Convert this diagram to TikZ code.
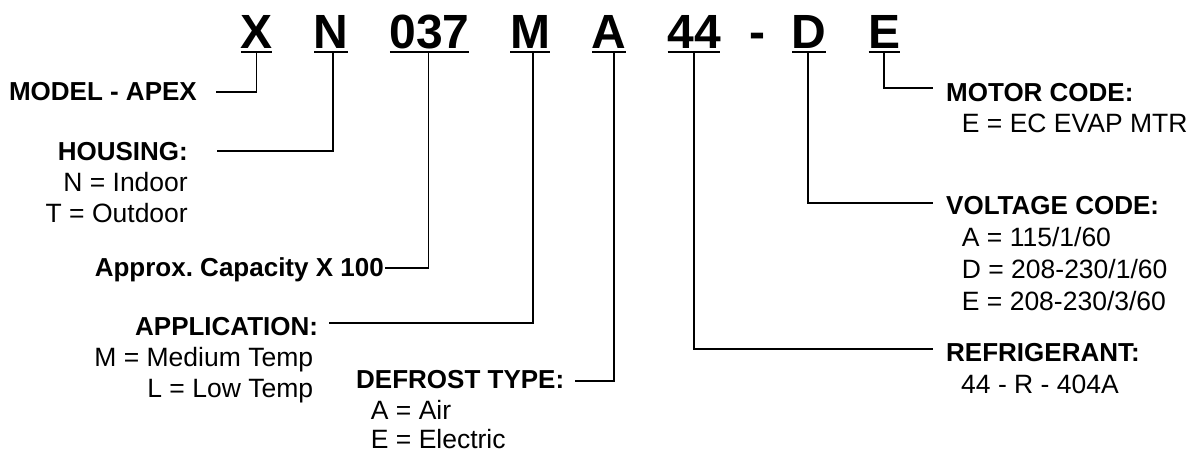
\documentclass[tikz,border=0pt]{standalone}
\usepackage{fontspec}
\setmainfont{Liberation Sans}
\frenchspacing
\begin{document}
\begin{tikzpicture}[x=1pt,y=-1pt,
  code/.style={font=\fontsize{48}{48}\selectfont\bfseries, inner sep=0pt, text depth=3.4pt, anchor=base},
  hdr/.style={font=\fontsize{26}{30}\selectfont\bfseries, inner sep=0pt},
  txt/.style={font=\fontsize{26.5}{30}\selectfont, inner sep=0pt},
  wire/.style={line width=1.8pt},
  uline/.style={line width=1.8pt}]
\useasboundingbox (0,0) rectangle (1191,453);

% code letters
\node[code] (cX) at (256.4,48.3) {X};
\node[code] (cN) at (331,48.3) {N};
\node[code] (cCap) at (429.5,48.3) {037};
\node[code] (cM) at (530,48.3) {M};
\node[code] (cA) at (609,48.3) {A};
\node[code] (c44) at (694,48.3) {44};
\node[code] (cDash) at (757.8,48.3) {-};
\node[code] (cD) at (809.3,48.3) {D};
\node[code] (cE) at (884.3,48.3) {E};

\foreach \n in {cX,cN,cCap,cM,cA,c44,cD,cE}
  \draw[uline] ([xshift=0.6pt]\n.south west) -- ([xshift=-0.6pt]\n.south east);

% left labels
\node[hdr, anchor=base east] (lModel) at (197,100.7) {MODEL - APEX};
\node[hdr, anchor=base east] (lHousing) at (188,160) {HOUSING:};
\node[txt, anchor=base east] (lN) at (188,191.7) {N = Indoor};
\node[txt, anchor=base east] (lT) at (188,222.7) {T = Outdoor};
\node[hdr, anchor=base east] (lCap) at (384,276.7) {Approx. Capacity X 100};
\node[hdr, anchor=base east] (lApp) at (318.3,335) {APPLICATION:};
\node[txt, anchor=base east] (lMed) at (313.3,366) {M = Medium Temp};
\node[txt, anchor=base east] (lLow) at (313.3,397) {L = Low Temp};
\node[hdr, anchor=base west] (lDef) at (356,388.5) {DEFROST TYPE:};
\node[txt, anchor=base west] (lAir) at (370.7,419) {A = Air};
\node[txt, anchor=base west] (lElec) at (370.7,448.5) {E = Electric};

% right labels
\node[hdr, anchor=base west] (lMotor) at (946,101) {MOTOR CODE:};
\node[txt, anchor=base west] (lEc) at (961.7,132.5) {E = EC EVAP MTR};
\node[hdr, anchor=base west] (lVolt) at (946,214.5) {VOLTAGE CODE:};
\node[txt, anchor=base west] (lV1) at (961.7,246.5) {A = 115/1/60};
\node[txt, anchor=base west] (lV2) at (961.7,278) {D = 208-230/1/60};
\node[txt, anchor=base west] (lV3) at (961.7,310) {E = 208-230/3/60};
\node[hdr, anchor=base west] (lRef) at (946,361) {REFRIGERANT:};
\node[txt, anchor=base west] (lR1) at (961,393) {44 - R - 404A};

% connector ends
\coordinate (mModel) at (216,92.3);
\coordinate (mHousing) at (217,150.7);
\coordinate (mCap) at (385,268.3);
\coordinate (mApp) at (329,323.3);
\coordinate (mDef) at (575,380.7);
\coordinate (mMotor) at (932.7,88.3);
\coordinate (mVolt) at (932.7,202.7);
\coordinate (mRef) at (932.7,349);

% connectors
\draw[wire] (cX.south) |- (mModel);
\draw[wire] ([xshift=1.7pt]cN.south) |- (mHousing);
\draw[wire] ([xshift=-1pt]cCap.south) |- (mCap);
\draw[wire] ([xshift=2.7pt]cM.south) |- (mApp);
\draw[wire] ([xshift=5pt]cA.south) |- (mDef);
\draw[wire] (c44.south) |- (mRef);
\draw[wire] ([xshift=-1pt]cD.south) |- (mVolt);
\draw[wire] (cE.south) |- (mMotor);
\end{tikzpicture}
\end{document}
